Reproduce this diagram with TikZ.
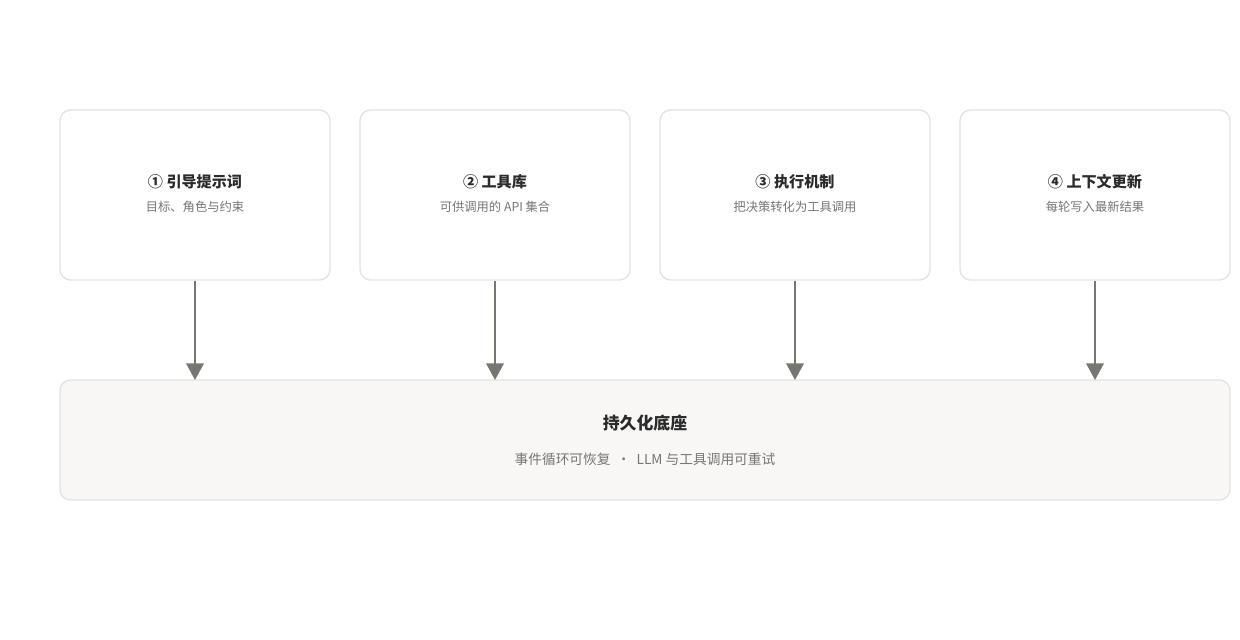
\documentclass[tikz,border=0pt]{standalone}
\usepackage{fontspec}
\usepackage{xcolor}
\usepackage{tikz}
\usetikzlibrary{arrows.meta}
\setmainfont{Noto Sans CJK SC}
\definecolor{B0}{HTML}{e3e3e1}
\definecolor{B1}{HTML}{f8f7f5}
\definecolor{T0}{HTML}{2b2b2b}
\definecolor{T1}{HTML}{767676}
\definecolor{A0}{HTML}{777772}
\tikzset{
  card/.style={draw=B0, line width=0.8pt, rounded corners=6pt, fill=white, minimum width=5.4cm, minimum height=3.4cm},
  base/.style={draw=B0, line width=0.8pt, rounded corners=6pt, fill=B1, minimum width=23.4cm, minimum height=2.4cm},
  ttl/.style={text=T0, font=\bfseries\fontsize{8.6}{10}\selectfont},
  sub/.style={text=T1, font=\fontsize{7}{9}\selectfont},
  flow/.style={draw=A0, line width=1.2pt, -{Triangle[width=10pt,length=9.5pt]}}
}
\begin{document}
\begin{tikzpicture}%
\useasboundingbox (0,0) rectangle (24.8,-12.8);%
\node[card] (c1) at (3.9, -3.9) {};%
\node[card] (c2) at (9.9, -3.9) {};%
\node[card] (c3) at (15.9, -3.9) {};%
\node[card] (c4) at (21.9, -3.9) {};%
\node[base] (b) at (12.9, -8.8) {};%
\node[ttl] at (3.9, -3.63) {① 引导提示词};%
\node[sub] at (3.9, -4.14) {目标、角色与约束};%
\node[ttl] at (9.9, -3.63) {② 工具库};%
\node[sub] at (9.9, -4.14) {可供调用的 API 集合};%
\node[ttl] at (15.9, -3.63) {③ 执行机制};%
\node[sub] at (15.9, -4.14) {把决策转化为工具调用};%
\node[ttl] at (21.9, -3.63) {④ 上下文更新};%
\node[sub] at (21.9, -4.14) {每轮写入最新结果};%
\node[ttl, font=\bfseries\fontsize{9.6}{11}\selectfont] at (12.9, -8.46) {持久化底座};%
\node[sub, font=\fontsize{7.8}{9}\selectfont] at (12.9, -9.18) {事件循环可恢复 \ · \ LLM 与工具调用可重试};%
\foreach \i/\x in {1/3.9, 2/9.9, 3/15.9, 4/21.9}
  \draw[flow] (c\i.south) -- (\x, -7.6);%
\end{tikzpicture}
\end{document}
